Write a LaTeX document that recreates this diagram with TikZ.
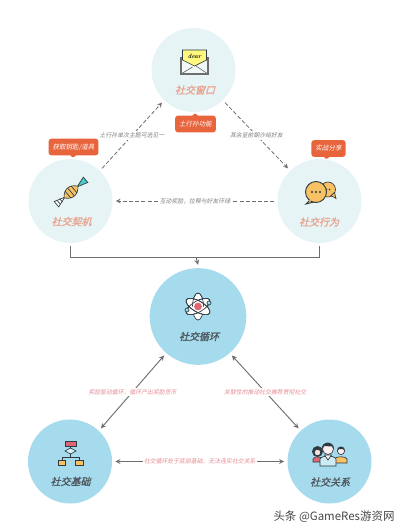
\documentclass[tikz,border=0pt]{standalone}
\usepackage{fontspec}
\newfontfamily\cjk{Noto Sans CJK SC}
\newfontfamily\cjkit[FakeSlant=0.25,FakeBold=1.2]{Noto Sans CJK SC}
\newfontfamily\cjknote[FakeSlant=0.2]{Noto Sans CJK SC}
\usetikzlibrary{shapes.callouts}
\definecolor{palecirc}{HTML}{E6F4F5}
\definecolor{bluecirc}{HTML}{A5DBED}
\definecolor{tagred}{HTML}{E8643C}
\definecolor{salmontxt}{HTML}{E9A48E}
\definecolor{lineink}{HTML}{6E6E6E}
\definecolor{iconink}{HTML}{2F3A42}
\definecolor{goldfill}{HTML}{F6C264}
\definecolor{rosefill}{HTML}{DE6672}
\tikzset{
  palenode/.style={circle, fill=palecirc, minimum size=63pt, inner sep=0pt, outer sep=2.5pt},
  bluenode/.style={circle, fill=bluecirc, minimum size=63pt, inner sep=0pt, outer sep=2.5pt},
  paletitle/.style={font=\cjkit\fontsize{7.5}{9}\selectfont, text=salmontxt},
  bluetitle/.style={font=\cjkit\fontsize{7.5}{9}\selectfont, text=iconink!85},
  tagbox/.style={rectangle callout, fill=tagred, rounded corners=2pt, text=white, font=\cjknote\fontsize{4.9}{6}\selectfont,
    callout pointer width=4pt, minimum height=12.5pt, inner xsep=3pt, inner ysep=0pt},
  graynote/.style={fill=white, inner sep=1pt, text=black!50, font=\cjknote\fontsize{4.4}{5}\selectfont},
  rosenote/.style={fill=white, inner sep=1pt, text=rosefill!75, font=\cjknote\fontsize{4.4}{5}\selectfont},
  dashline/.style={draw=lineink, dash pattern=on 3pt off 1.6pt, line width=0.6pt, ->},
  mainline/.style={draw=lineink, line width=0.7pt, <->},
  iconline/.style={draw=iconink, line width=0.5pt},
}
\begin{document}
\begin{tikzpicture}[x=0.75pt, y=-0.75pt, >=stealth]
  \useasboundingbox (0,0) rectangle (400,532);

  \node[palenode] (window) at (193.5,70) {};
  \node[palenode] (chance) at (70.5,201) {};
  \node[palenode] (action) at (319.5,201) {};
  \node[bluenode, minimum size=72.5pt] (cycle) at (198,316.5) {};
  \node[bluenode] (base) at (70,461.5) {};
  \node[bluenode] (relation) at (329.5,461.5) {};

  \node[paletitle] (windowtxt) at (195,90) {社交窗口};
  \node[paletitle] (chancetxt) at (71.5,221.5) {社交契机};
  \node[paletitle] (actiontxt) at (319,222) {社交行为};
  \node[bluetitle] (cycletxt) at (199,336.5) {社交循环};
  \node[bluetitle] (basetxt) at (70.5,481.5) {社交基础};
  \node[bluetitle] (relationtxt) at (330,482) {社交关系};

  \draw[dashline] (chance.46) -- node[graynote] (notea) {土行孙单次主题可选见一} (window.226);
  \draw[dashline] (window.314) -- node[graynote] (noteb) {其余呈前朝沙给好友} (action.134);
  \draw[dashline] (action.west) -- node[graynote] (notec) {互动奖励，拉帮与好友环绿} (chance.east);

  \coordinate (join) at (196,257);
  \draw[lineink, line width=0.7pt] (chance.south) |- (join);
  \draw[lineink, line width=0.7pt] (action.south) |- (join);
  \draw[lineink, line width=0.7pt, ->] (join) -- (cycle.north);

  \draw[mainline] (cycle.229) -- node[rosenote] (noted) {奖励驱动循环，循环产出奖励货币} (base.47);
  \draw[mainline] (cycle.311) -- node[rosenote] (notee) {关联性的推动社交推荐贯彻社交} (relation.133);
  \draw[mainline] (base.east) -- node[rosenote] (notef) {社交循环处于底部基础，无法连实社交关系} (relation.west);

  \node[tagbox, callout absolute pointer={(195,112.5)}] (tagwindow) at (195.5,124) {土行孙功能};
  \node[tagbox, callout absolute pointer={(73,158.5)}] (tagchance) at (73.5,147) {获取钥匙/道具};
  \node[tagbox, callout absolute pointer={(326,160)}] (tagaction) at (328.5,148.5) {实战分享};

  \begin{scope}[shift={(194.5,62)}]
    \fill[palecirc!60!white] (-13.5,-5) -- (13.5,-5) -- (13.5,12) -- (-13.5,12) -- cycle;
    \draw[iconline, draw=lineink, line width=0.8pt] (-13.5,-5) -- (-13.5,12) -- (13.5,12) -- (13.5,-5);
    \draw[iconline, draw=lineink] (-13.5,12) -- (-2,5) (0,3) -- (13.5,12);
    \filldraw[iconline, fill=yellow!50!white] (-12,-12) -- (12,-12) -- (12,-2) -- (0,4) -- (-12,-2) -- cycle;
    \node[font=\bfseries\itshape\fontsize{4.6}{5}\selectfont, inner sep=0pt] (dear) at (0,-5.5) {dear};
  \end{scope}

  \begin{scope}[shift={(71,192)}, rotate=40]
    \filldraw[iconline, fill=white] (-8,0) -- (-19,-3.5) -- (-19,3.5) -- cycle;
    \filldraw[iconline, fill=teal!60!cyan!70!white] (8,0) -- (19,-3.5) -- (19,3.5) -- cycle;
    \filldraw[iconline, fill=goldfill] (-9,0) .. controls (-4,-7) and (4,-7) .. (9,0) .. controls (4,7) and (-4,7) .. (-9,0) -- cycle;
    \foreach \sx in {-4,0,4} {
      \draw[iconline] (\sx,-4.5) -- (\sx,4.5);
    }
    \foreach \sx in {-16,-13} {
      \draw[iconline] (\sx,-2.2) -- (\sx,2.2);
    }
  \end{scope}

  \begin{scope}[shift={(328,189.5)}]
    \filldraw[iconline, fill=goldfill] (0,0) circle (7.5);
    \filldraw[iconline, fill=goldfill] (3,6) -- (8,9) -- (6.5,3) -- cycle;
    \fill[iconink] (-1.5,0) circle (0.9) (1.5,0) circle (0.9);
  \end{scope}
  \begin{scope}[shift={(316,192)}]
    \filldraw[iconline, line width=0.7pt, fill=goldfill] (-6,8) -- (-10,12) -- (-2,10) -- cycle;
    \filldraw[iconline, line width=0.7pt, fill=goldfill] (0,0) circle (10.5);
    \fill[goldfill] (-5,6) -- (-7,9) -- (-2,8) -- cycle;
    \foreach \dx in {-4,0,4} {
      \fill[iconink] (\dx,0) circle (1.1);
    }
  \end{scope}

  \begin{scope}[shift={(198,306.5)}]
    \foreach \ang in {90,30,150} {
      \filldraw[iconline, fill=white, rotate=\ang] (0,0) ellipse (13.5 and 5.5);
    }
    \foreach \ang in {30,150} {
      \draw[iconline, rotate=\ang] (0,0) ellipse (13.5 and 5.5);
    }
    \draw[iconline, rotate=90] (0,-5.5) arc (-90:90:13.5 and 5.5);
    \filldraw[iconline, draw=rosefill, fill=rosefill] (0,0) circle (3.5);
    \filldraw[iconline, fill=bluecirc] (11,-3.5) circle (2);
    \filldraw[iconline, fill=bluecirc] (-11,3.5) circle (2);
  \end{scope}

  \begin{scope}[shift={(70.5,451)}]
    \draw[iconline] (0,-5) -- (0,6.5) (-8.5,9) -- (-8.5,6.5) -- (8.5,6.5) -- (8.5,9);
    \filldraw[iconline, fill=rosefill] (-5.5,-10) rectangle (5.5,-5);
    \filldraw[iconline, fill=bluecirc!40!white] (-5.5,0) -- (0,-3) -- (5.5,0) -- (0,3) -- cycle;
    \filldraw[iconline, fill=goldfill] (-12.5,9) rectangle (-5,14);
    \filldraw[iconline, fill=goldfill] (5,9) rectangle (12.5,14);
  \end{scope}

  \begin{scope}[shift={(328,448)}]
    \fill[iconink] (-10.5,3.5) circle (5.5);
    \filldraw[iconline, fill=rosefill] (-15,14) -- (-15,11) .. controls (-14,8) and (-7,8) .. (-6,11) -- (-6,14) -- cycle;
    \filldraw[iconline, fill=white!80!rosefill] (-10.5,4.5) circle (3.2);
    \filldraw[iconline, fill=goldfill] (6,15) -- (6,11) .. controls (8,8) and (18,8) .. (19,11) -- (19,15) -- cycle;
    \filldraw[iconline, fill=white!90!rosefill] (13,3) circle (3.6);
    \fill[iconink] (9,3) .. controls (8.5,-3) and (17.5,-3) .. (17,3) -- (15,1) -- (11,1) -- cycle;
    \filldraw[iconline, fill=bluecirc!55!white] (-8,18) -- (-8,11) .. controls (-6,7) and (6,7) .. (8,11) -- (8,18) -- cycle;
    \filldraw[iconline, fill=white!90!rosefill] (-3.5,7) -- (3.5,7) -- (0,12) -- cycle;
    \filldraw[iconline, fill=white!90!rosefill] (0,1) circle (5.5);
    \fill[iconink] (-6,1) .. controls (-7,-7) and (6,-8) .. (6,1) -- (4,-1.5) -- (-4,-2) -- cycle;
  \end{scope}

  \node[text=black!72, font=\cjk\fontsize{8.6}{10}\selectfont, inner sep=0pt] (watermark) at (334,517) {头条 @GameRes游资网};
\end{tikzpicture}
\end{document}
